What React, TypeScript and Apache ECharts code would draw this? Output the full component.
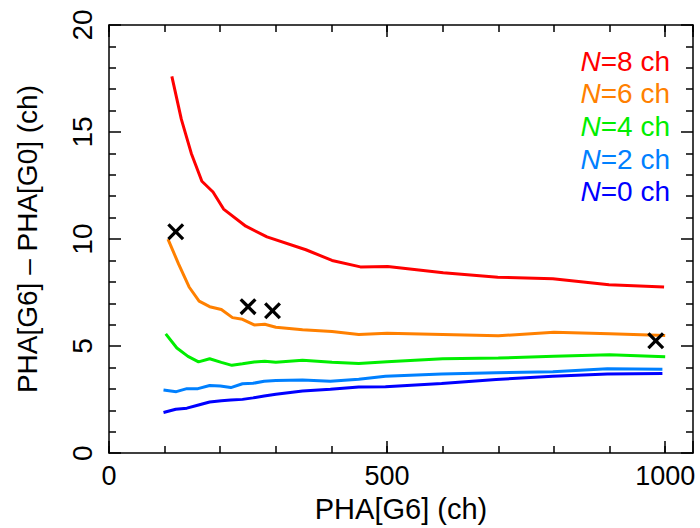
import React, { useEffect, useRef } from "react";
import * as echarts from "echarts";

const FONT = "'Liberation Sans', Arial, Helvetica, sans-serif";

const redX = [113, 130, 148, 167, 187, 206, 246, 284, 354, 401, 452, 501, 601, 699, 798, 899, 998];
const redY = [17.6, 15.6, 14.0, 12.7, 12.2, 11.4, 10.6, 10.1, 9.5, 9.0, 8.7, 8.72, 8.43, 8.22, 8.15, 7.87, 7.76];

const orangeX = [106, 125, 144, 162, 181, 202, 222, 240, 261, 280, 300, 348, 401, 449, 500, 600, 700, 800, 900, 1000];
const orangeY = [10.0, 8.84, 7.76, 7.1, 6.84, 6.71, 6.33, 6.25, 5.99, 6.02, 5.88, 5.76, 5.68, 5.54, 5.6, 5.54, 5.48, 5.65, 5.57, 5.49];

const greenX = [102, 122, 142, 161, 181, 202, 221, 240, 261, 280, 300, 348, 401, 449, 500, 600, 700, 800, 900, 1000];
const greenY = [5.57, 4.91, 4.52, 4.26, 4.41, 4.24, 4.1, 4.17, 4.26, 4.29, 4.24, 4.34, 4.24, 4.19, 4.27, 4.41, 4.44, 4.52, 4.6, 4.5];

const lightBlueX = [98, 121, 140, 160, 181, 200, 219, 240, 259, 279, 300, 348, 398, 449, 497, 598, 696, 798, 896, 995];
const lightBlueY = [2.95, 2.87, 3.01, 3.01, 3.16, 3.13, 3.06, 3.24, 3.26, 3.36, 3.39, 3.41, 3.36, 3.45, 3.59, 3.7, 3.75, 3.8, 3.94, 3.92];

const blueX = [98, 120, 140, 161, 181, 202, 219, 240, 259, 279, 300, 348, 398, 449, 497, 598, 696, 798, 896, 995];
const blueY = [1.9, 2.05, 2.1, 2.25, 2.39, 2.45, 2.48, 2.51, 2.58, 2.67, 2.75, 2.9, 2.98, 3.09, 3.1, 3.25, 3.44, 3.59, 3.7, 3.72];

const markerX = [120, 250, 294, 983];
const markerY = [10.34, 6.84, 6.65, 5.25];

const seriesNames = ["N=8 ch", "N=6 ch", "N=4 ch", "N=2 ch", "N=0 ch"];
const seriesN = ["8", "6", "4", "2", "0"];
const seriesColors = ["#ff0000", "#ff8000", "#00ee00", "#0080ff", "#0000ff"];
const seriesXs = [redX, orangeX, greenX, lightBlueX, blueX];
const seriesYs = [redY, orangeY, greenY, lightBlueY, blueY];

const xTitle = "PHA[G6] (ch)";
const yTitle = "PHA[G6] \u2013 PHA[G0] (ch)";

const X_MIN = 0;
const X_MAX = 1050;
const Y_MIN = 0;
const Y_MAX = 20;

const zip = (xs: number[], ys: number[]) => xs.map((x, i) => [x, ys[i]]);

const CROSS = "path://M0,2.2L2.2,0L8,5.8L13.8,0L16,2.2L10.2,8L16,13.8L13.8,16L8,10.2L2.2,16L0,13.8L5.8,8Z";

export default function App() {
  const ref = useRef<HTMLDivElement>(null);
  useEffect(() => {
    if (!ref.current) return;
    const chart = echarts.init(ref.current, null, { renderer: "svg" });
    const lineStyle = { color: "#000", width: 1.5 };
    const minorX = (position: "bottom" | "top", showLabel: boolean) => ({
      type: "value",
      position,
      min: X_MIN,
      max: X_MAX,
      interval: 100,
      axisLine: { show: true, onZero: false, lineStyle },
      axisTick: { show: true, inside: true, length: 7, lineStyle },
      axisLabel: {
        show: showLabel,
        color: "#000",
        fontFamily: FONT,
        fontSize: 27,
        margin: 9,
        showMaxLabel: false,
        formatter: (v: number) => (v % 500 === 0 && v <= 1000 ? String(v) : ""),
      },
      splitLine: { show: false },
      name: showLabel ? xTitle : "",
      nameLocation: "middle",
      nameGap: 40,
      nameTextStyle: { color: "#000", fontFamily: FONT, fontSize: 29 },
    });
    const majorX = (position: "bottom" | "top") => ({
      type: "value",
      position,
      min: X_MIN,
      max: X_MAX,
      interval: 500,
      axisLine: { show: false, onZero: false },
      axisTick: { show: true, inside: true, length: 12, lineStyle },
      axisLabel: { show: false },
      splitLine: { show: false },
    });
    const yAxis = (position: "left" | "right", showLabel: boolean) => ({
      type: "value",
      position,
      min: Y_MIN,
      max: Y_MAX,
      interval: 5,
      axisLine: { show: true, onZero: false, lineStyle },
      axisTick: { show: true, inside: true, length: 12, lineStyle },
      minorTick: { show: true, splitNumber: 5, length: 7, lineStyle },
      axisLabel: {
        show: showLabel,
        rotate: 90,
        color: "#000",
        fontFamily: FONT,
        fontSize: 28,
        margin: 13,
      },
      splitLine: { show: false },
      minorSplitLine: { show: false },
      name: showLabel ? yTitle : "",
      nameLocation: "middle",
      nameGap: 68,
      nameRotate: 90,
      nameTextStyle: { color: "#000", fontFamily: FONT, fontSize: 28 },
    });

    const lineSeries = seriesNames.map((name, i) => ({
      name,
      type: "line",
      xAxisIndex: 0,
      yAxisIndex: 0,
      data: zip(seriesXs[i], seriesYs[i]),
      showSymbol: false,
      symbol: "none",
      lineStyle: { color: seriesColors[i], width: 3 },
      itemStyle: { color: seriesColors[i] },
      z: 3,
    }));

    const legendTexts = seriesN.map((n, i) => ({
      type: "text",
      right: 30,
      top: 47 + i * 32.7,
      style: {
        text: "{i|N}=" + n + " ch",
        fill: seriesColors[i],
        font: `28px ${FONT}`,
        rich: {
          i: { fontStyle: "italic", fill: seriesColors[i], fontSize: 28, fontFamily: FONT },
        },
      },
    }));

    chart.setOption({
      animation: false,
      backgroundColor: "#fff",
      grid: { left: 109, right: 7, top: 25, bottom: 74, containLabel: false },
      xAxis: [minorX("bottom", true), majorX("bottom"), minorX("top", false), majorX("top")],
      yAxis: [yAxis("left", true), yAxis("right", false)],
      series: [
        ...lineSeries,
        {
          name: "markers",
          type: "scatter",
          xAxisIndex: 0,
          yAxisIndex: 0,
          data: zip(markerX, markerY),
          symbol: CROSS,
          symbolSize: 17,
          itemStyle: { color: "#000", opacity: 1 },
          z: 5,
        },
      ],
      graphic: legendTexts,
    });
    return () => chart.dispose();
  }, []);
  return <div ref={ref} style={{ width: 700, height: 528, position: "absolute", left: 0, top: 0 }} />;
}
